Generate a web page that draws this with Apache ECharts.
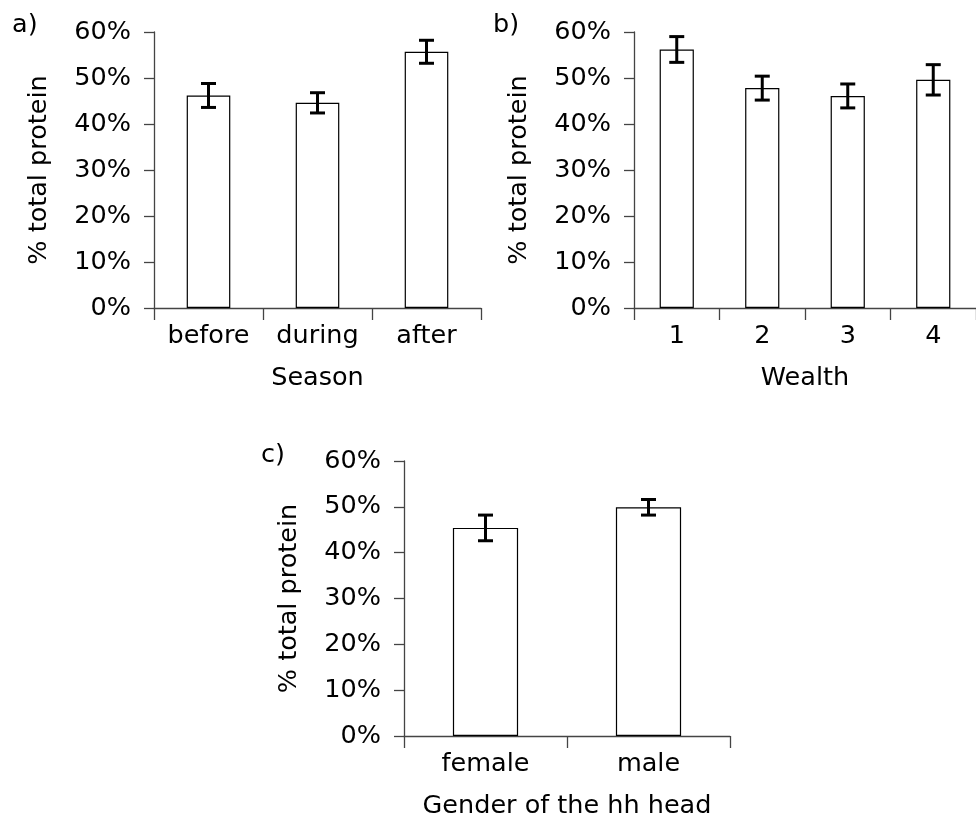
<!DOCTYPE html>
<html>
<head>
<meta charset="utf-8">
<script src="https://cdn.jsdelivr.net/npm/echarts@6/dist/echarts.min.js"></script>
<style>
  html, body { margin: 0; padding: 0; background: #fff; }
  #chart { width: 976px; height: 820px; }
</style>
</head>
<body>
<div id="chart"></div>
<script>
// Share of total protein (%) by group, with error bars (± half-width)
const seasonCats = ['before', 'during', 'after'];
const seasonMean = [46.2, 44.6, 55.7];
const seasonErr  = [2.6, 2.2, 2.5];

const wealthCats = ['1', '2', '3', '4'];
const wealthMean = [56.2, 47.8, 46.1, 49.6];
const wealthErr  = [2.8, 2.6, 2.6, 3.3];

const genderCats = ['female', 'male'];
const genderMean = [45.4, 49.9];
const genderErr  = [2.8, 1.7];

const yTicks = { min: 0, max: 60, interval: 10 };

const FONT = 'DejaVu Sans';
const FS = 25.5;
const AXIS_COLOR = '#444';

const chart = echarts.init(document.getElementById('chart'));

function xAxis(gridIndex, cats, name) {
  return {
    type: 'category', gridIndex, data: cats,
    name, nameLocation: 'middle', nameGap: 57,
    nameTextStyle: { fontFamily: FONT, fontSize: FS, color: '#000' },
    axisLine: { lineStyle: { color: AXIS_COLOR, width: 1.3 } },
    axisTick: { show: true, length: 12, lineStyle: { color: AXIS_COLOR, width: 1.3 } },
    axisLabel: { fontFamily: FONT, fontSize: FS, color: '#000', margin: 15 },
    splitLine: { show: false }
  };
}

function yAxis(gridIndex) {
  return {
    type: 'value', gridIndex,
    min: yTicks.min, max: yTicks.max, interval: yTicks.interval,
    name: '% total protein', nameLocation: 'middle', nameGap: 102,
    nameTextStyle: { fontFamily: FONT, fontSize: FS, color: '#000' },
    axisLine: { show: true, lineStyle: { color: AXIS_COLOR, width: 1.3 } },
    axisTick: { show: true, length: 10, lineStyle: { color: AXIS_COLOR, width: 1.3 } },
    axisLabel: { fontFamily: FONT, fontSize: FS, color: '#000', margin: 23,
                 formatter: '{value}%' },
    splitLine: { show: false }
  };
}

function barSeries(idx, values) {
  return {
    type: 'bar', xAxisIndex: idx, yAxisIndex: idx,
    data: values, barWidth: '40%',
    itemStyle: { color: '#fff', borderColor: '#000', borderWidth: 1.2 },
    silent: true
  };
}

function errSeries(idx, means, errs) {
  return {
    type: 'custom', xAxisIndex: idx, yAxisIndex: idx,
    data: means.map((m, i) => [i, m - errs[i], m + errs[i]]),
    renderItem(params, api) {
      const lo = api.coord([api.value(0), api.value(1)]);
      const hi = api.coord([api.value(0), api.value(2)]);
      const hw = 7.5;
      const style = { stroke: '#000', lineWidth: 3, fill: null };
      return {
        type: 'group',
        children: [
          { type: 'line', shape: { x1: lo[0], y1: lo[1], x2: hi[0], y2: hi[1] }, style },
          { type: 'line', shape: { x1: lo[0] - hw, y1: lo[1], x2: lo[0] + hw, y2: lo[1] }, style },
          { type: 'line', shape: { x1: hi[0] - hw, y1: hi[1], x2: hi[0] + hw, y2: hi[1] }, style }
        ]
      };
    },
    z: 10, silent: true
  };
}

function panelLabel(text, left, top) {
  return { type: 'text', left, top,
    style: { text, fontFamily: FONT, fontSize: FS, fill: '#000' } };
}

chart.setOption({
  animation: false,
  backgroundColor: '#fff',
  grid: [
    { left: 154, top: 32, width: 327, height: 276 },
    { left: 634, top: 32, width: 345, height: 276 },
    { left: 404, top: 461, width: 326, height: 276 }
  ],
  xAxis: [
    xAxis(0, seasonCats, 'Season'),
    xAxis(1, wealthCats, 'Wealth'),
    xAxis(2, genderCats, 'Gender of the hh head')
  ],
  yAxis: [yAxis(0), yAxis(1), yAxis(2)],
  series: [
    barSeries(0, seasonMean), errSeries(0, seasonMean, seasonErr),
    barSeries(1, wealthMean), errSeries(1, wealthMean, wealthErr),
    barSeries(2, genderMean), errSeries(2, genderMean, genderErr)
  ],
  graphic: [
    panelLabel('a)', 12, 12),
    panelLabel('b)', 493, 12),
    panelLabel('c)', 261, 442)
  ]
});
</script>
</body>
</html>
